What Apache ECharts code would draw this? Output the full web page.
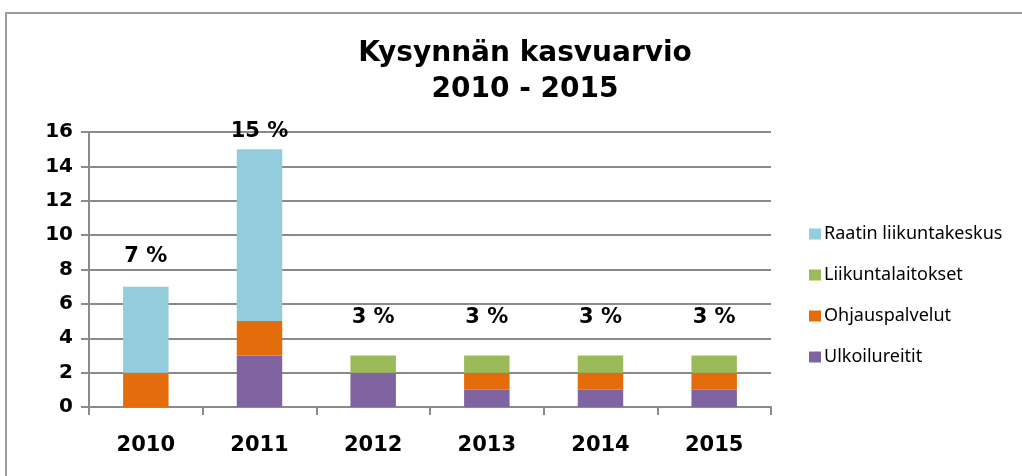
<!DOCTYPE html>
<html>
<head>
<meta charset="utf-8">
<script src="https://cdn.jsdelivr.net/npm/echarts@6/dist/echarts.min.js"></script>
<style>
  html, body { margin: 0; padding: 0; background: #fff; }
  #chart { width: 1022px; height: 476px; }
</style>
</head>
<body>
<div id="chart"></div>
<script>
// Years on the category axis
const years = ['2010', '2011', '2012', '2013', '2014', '2015'];

// Stacked demand growth components, bottom to top
const ulkoilureitit = [0, 3, 2, 1, 1, 1];
const ohjauspalvelut = [2, 2, 0, 1, 1, 1];
const liikuntalaitokset = [0, 0, 1, 1, 1, 1];
const raatinLiikuntakeskus = [5, 10, 0, 0, 0, 0];

// Value axis ticks
const yTicks = [0, 2, 4, 6, 8, 10, 12, 14, 16];

// Gap in px between each bar top and its total label
const labelLift = [20, 7, 27, 27, 27, 27];

const stackDefs = [
  { name: 'Ulkoilureitit', data: ulkoilureitit, color: '#8064A2' },
  { name: 'Ohjauspalvelut', data: ohjauspalvelut, color: '#E46C0A' },
  { name: 'Liikuntalaitokset', data: liikuntalaitokset, color: '#9BBB59' },
  { name: 'Raatin liikuntakeskus', data: raatinLiikuntakeskus, color: '#93CDDD' }
];

const totals = years.map((_, i) => stackDefs.reduce((s, d) => s + d.data[i], 0));

const gridColor = '#8a8a8a';
const boldFont = 'DejaVu Sans';

const series = stackDefs.map(d => ({
  name: d.name,
  type: 'bar',
  stack: 'total',
  barWidth: '40%',
  itemStyle: { color: d.color },
  emphasis: { disabled: true },
  data: d.data
}));

series.push({
  name: 'Yhteensä',
  type: 'scatter',
  symbolSize: 0,
  silent: true,
  z: 10,
  itemStyle: { opacity: 1, color: 'rgba(0,0,0,0)' },
  data: totals.map((t, i) => ({
    value: t,
    label: {
      show: true,
      position: 'top',
      distance: labelLift[i],
      formatter: t + ' %',
      fontFamily: boldFont,
      fontWeight: 'bold',
      fontSize: 21,
      color: '#000',
      textBorderWidth: 0
    }
  }))
});

const chart = echarts.init(document.getElementById('chart'), null, { renderer: 'canvas' });

chart.setOption({
  animation: false,
  backgroundColor: '#fff',
  graphic: [{
    type: 'rect',
    shape: { x: 6, y: 13, width: 1100, height: 600 },
    style: { fill: 'none', stroke: '#9c9c9c', lineWidth: 2 },
    silent: true,
    z: -1
  }],
  title: {
    text: 'Kysynnän kasvuarvio\n2010 - 2015',
    left: 520,
    textAlign: 'center',
    top: 31,
    textStyle: {
      fontFamily: boldFont,
      fontWeight: 'bold',
      fontSize: 28,
      lineHeight: 36,
      color: '#000'
    }
  },
  legend: {
    orient: 'vertical',
    left: 804,
    top: 220,
    itemWidth: 12,
    itemHeight: 11,
    itemGap: 23,
    icon: 'rect',
    data: ['Raatin liikuntakeskus', 'Liikuntalaitokset', 'Ohjauspalvelut', 'Ulkoilureitit'],
    textStyle: {
      fontFamily: 'Noto Sans',
      fontSize: 18,
      lineHeight: 17,
      color: '#000',
      padding: [0, 0, 0, -2]
    }
  },
  grid: { left: 89, right: 251, top: 132, bottom: 69, containLabel: false },
  xAxis: {
    type: 'category',
    data: years,
    boundaryGap: true,
    axisLine: { show: true, lineStyle: { color: gridColor, width: 2 } },
    axisTick: { show: true, alignWithLabel: false, length: 8, lineStyle: { color: gridColor, width: 2 } },
    axisLabel: {
      margin: 28,
      fontFamily: boldFont,
      fontWeight: 'bold',
      fontSize: 21,
      color: '#000'
    }
  },
  yAxis: {
    type: 'value',
    min: yTicks[0],
    max: yTicks[yTicks.length - 1],
    interval: yTicks[1] - yTicks[0],
    axisLine: { show: true, lineStyle: { color: gridColor, width: 2 } },
    axisTick: { show: true, length: 8, lineStyle: { color: gridColor, width: 2 } },
    splitLine: { show: true, lineStyle: { color: gridColor, width: 2 } },
    axisLabel: {
      margin: 16,
      fontFamily: boldFont,
      fontWeight: 'bold',
      fontSize: 20,
      color: '#000'
    }
  },
  series: series
});
</script>
</body>
</html>
